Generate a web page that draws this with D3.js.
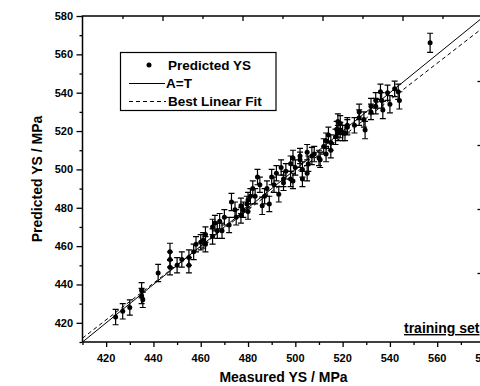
<!DOCTYPE html>
<html lang="en">
<head>
<meta charset="UTF-8">
<title>Predicted vs measured YS</title>
<style>
    body { margin: 0; padding: 0; background: #fff; }
    svg { display: block; }
    text { font-family: "Liberation Sans", Arial, Helvetica, sans-serif; font-weight: bold; fill: #000; }
</style>
</head>
<body>
<div id="chart"></div>
<script src="https://cdnjs.cloudflare.com/ajax/libs/d3/7.8.5/d3.min.js"></script>
<script>
// values (MPa)
const measured = [424, 427, 430, 435, 435.5, 435, 442, 447, 447, 447, 450, 452, 455, 455, 457, 458, 460, 461, 462, 462,
    465, 465, 466, 467, 468, 469, 470, 472, 473, 474.5, 475, 477, 477, 479.5, 480, 478, 480, 481, 482, 483,
    484, 485, 486, 488, 487, 489, 490, 491, 492, 493, 494, 495, 495, 496, 498, 498, 499, 500, 499, 502,
    502, 503, 503, 505, 505, 505.5, 507, 508, 510, 510.5, 512, 513, 513, 514, 515, 515, 517, 517.5, 518, 518,
    519, 519, 520, 521, 522, 522, 525, 527, 527, 529, 529.5, 532, 532, 534, 534, 536, 536.5, 537, 539, 540,
    542, 543.5, 544, 557];
const predicted = [423, 426, 428, 434, 432, 437, 446, 457, 453, 449, 450, 453, 454, 450, 457, 461, 462, 463, 466, 461,
    470, 465, 472, 468, 473, 468, 475, 471, 483, 479, 475, 481, 476, 482, 478, 479, 484, 486, 490, 486,
    496, 492, 481, 490, 486, 482, 496, 492, 498, 487, 501, 495, 493, 499, 495, 503, 506, 501, 494, 507,
    505, 500, 495, 509, 498, 503, 507, 508, 506, 505, 512, 508, 515, 518, 514, 510, 517, 521, 519, 525,
    524, 520.5, 519, 519, 522, 523, 523, 530, 527, 526, 520.5, 533, 530, 536, 533, 540.5, 536, 531, 540, 534,
    542, 540.5, 536, 566];
const errors = [4, 4, 4, 4, 4, 4, 4.5, 4.5, 4, 4, 4, 4, 4, 4, 4, 4, 4, 4, 4, 4,
    4, 4, 4, 4, 4, 4, 4, 4, 4.5, 4, 4, 4, 4, 4, 4, 4, 4, 4, 4, 4,
    4, 4, 4.5, 4, 4, 4, 4, 4, 4, 4, 4, 4, 4, 4, 4, 4, 4, 4, 4, 4,
    4, 4, 4, 4, 4, 4, 4.5, 4, 4, 4, 4, 4, 4, 4, 4, 4, 4, 4, 4, 4,
    4, 4, 4, 4, 4, 4, 4, 4, 4, 4, 4.5, 4, 4, 4, 4, 4, 4, 4.5, 4, 4.5,
    4, 4, 4.5, 5];
const axisTicks = [420, 440, 460, 480, 500, 520, 540, 560, 580];
const identityLine = [[410, 410], [580, 580]];
const fitLine = [[410, 412], [580, 574.5]];
const legendItems = ["Predicted YS", "A=T", "Best Linear Fit"];

const w = 480, h = 386;
const pLeft = 82.5, pRight = 484.5, pTop = 16, pBottom = 342;

const x = d3.scaleLinear().domain([410, 580]).range([pLeft, pRight]);
const y = d3.scaleLinear().domain([410, 580]).range([pBottom, pTop]);
// the frame's top and right edges carry their own tick spacing
const xTop = d3.scaleLinear().domain([0, 10]).range([pLeft, pLeft + 400]);
const yRight = d3.scaleLinear().domain([0, 5]).range([pTop + 1, pTop + 321]);

const svg = d3.select("#chart").append("svg")
    .attr("width", w).attr("height", h);

svg.append("clipPath").attr("id", "plot")
    .append("rect").attr("x", pLeft).attr("y", pTop)
    .attr("width", pRight - pLeft).attr("height", pBottom - pTop);

const minor = d3.range(410, 581, 10);

// bottom axis
const xAxis = svg.append("g")
    .attr("transform", `translate(0,${pBottom})`)
    .call(d3.axisBottom(x).tickValues(minor).tickSize(3).tickFormat(""));
xAxis.selectAll(".tick line").filter(d => axisTicks.includes(d)).attr("y2", 5);
xAxis.select(".domain").remove();
svg.append("g").attr("transform", `translate(0,${pBottom})`)
    .selectAll("text").data(axisTicks).join("text")
    .attr("x", d => x(d)).attr("y", 20)
    .attr("text-anchor", "middle").attr("font-size", 11).text(d => d);

// left axis
const yAxis = svg.append("g")
    .attr("transform", `translate(${pLeft},0)`)
    .call(d3.axisLeft(y).tickValues(minor).tickSize(3).tickFormat(""));
yAxis.selectAll(".tick line").filter(d => axisTicks.includes(d)).attr("x2", -6);
yAxis.select(".domain").remove();
svg.append("g")
    .selectAll("text").data(axisTicks).join("text")
    .attr("x", 73).attr("y", d => y(d) + 4)
    .attr("text-anchor", "end").attr("font-size", 11).text(d => d);

// top axis, ticks pointing in
const topAxis = svg.append("g")
    .attr("transform", `translate(0,${pTop})`)
    .call(d3.axisBottom(xTop).tickValues(d3.range(1, 11)).tickSize(3).tickFormat(""));
topAxis.selectAll(".tick line").filter(d => d % 2 === 0).attr("y2", 5);
topAxis.select(".domain").remove();

// right axis, ticks pointing in
const rightAxis = svg.append("g")
    .attr("transform", `translate(${pRight},0)`)
    .call(d3.axisLeft(yRight).tickValues(d3.range(1, 5)).tickSize(7).tickFormat(""));
rightAxis.select(".domain").remove();

svg.selectAll(".tick line").attr("stroke", "#000").attr("stroke-width", 1.3);

// frame
svg.append("rect")
    .attr("x", pLeft).attr("y", pTop)
    .attr("width", pRight - pLeft).attr("height", pBottom - pTop)
    .attr("fill", "none").attr("stroke", "#000").attr("stroke-width", 1.5);

const plot = svg.append("g").attr("clip-path", "url(#plot)");
const line = d3.line().x(d => x(d[0])).y(d => y(d[1]));

plot.append("path").attr("d", line(identityLine))
    .attr("fill", "none").attr("stroke", "#000").attr("stroke-width", 1);
plot.append("path").attr("d", line(fitLine))
    .attr("fill", "none").attr("stroke", "#000").attr("stroke-width", 1)
    .attr("stroke-dasharray", "4,3");

const pts = measured.map((m, i) => ({ m, p: predicted[i], e: errors[i] }));
const bars = plot.append("g").attr("stroke", "#000").attr("stroke-width", 1.2);
bars.selectAll("line.v").data(pts).join("line").attr("class", "v")
    .attr("x1", d => x(d.m)).attr("x2", d => x(d.m))
    .attr("y1", d => y(d.p + d.e)).attr("y2", d => y(d.p - d.e));
bars.selectAll("line.t").data(pts).join("line").attr("class", "t")
    .attr("x1", d => x(d.m) - 3).attr("x2", d => x(d.m) + 3)
    .attr("y1", d => y(d.p + d.e)).attr("y2", d => y(d.p + d.e));
bars.selectAll("line.b").data(pts).join("line").attr("class", "b")
    .attr("x1", d => x(d.m) - 3).attr("x2", d => x(d.m) + 3)
    .attr("y1", d => y(d.p - d.e)).attr("y2", d => y(d.p - d.e));
plot.selectAll("circle").data(pts).join("circle")
    .attr("cx", d => x(d.m)).attr("cy", d => y(d.p)).attr("r", 2.5)
    .attr("fill", "#000");

// legend
const legend = svg.append("g");
legend.append("rect").attr("x", 120.5).attr("y", 52.5).attr("width", 155.5).attr("height", 58)
    .attr("fill", "#fff").attr("stroke", "#000").attr("stroke-width", 1.2);
legend.append("circle").attr("cx", 149).attr("cy", 65).attr("r", 2.5).attr("fill", "#000");
legend.append("line").attr("x1", 129).attr("x2", 165).attr("y1", 83.5).attr("y2", 83.5)
    .attr("stroke", "#000");
legend.append("line").attr("x1", 129).attr("x2", 166).attr("y1", 101.5).attr("y2", 101.5)
    .attr("stroke", "#000").attr("stroke-dasharray", "4,3");
legend.selectAll("text").data(legendItems).join("text")
    .attr("x", (d, i) => i === 1 ? 166 : 168)
    .attr("y", (d, i) => 69.5 + i * 18.3)
    .attr("font-size", 13.5).text(d => d);

// axis titles
svg.append("text").attr("x", (pLeft + pRight) / 2).attr("y", 382)
    .attr("text-anchor", "middle").attr("font-size", 14).text("Measured YS / MPa");
svg.append("text").attr("transform", `translate(42,${(pTop + pBottom) / 2}) rotate(-90)`)
    .attr("text-anchor", "middle").attr("font-size", 14).text("Predicted YS / MPa");

// data set tag
svg.append("text").attr("x", 404).attr("y", 333)
    .attr("font-size", 14).attr("text-decoration", "underline").text("training set");
</script>
</body>
</html>
